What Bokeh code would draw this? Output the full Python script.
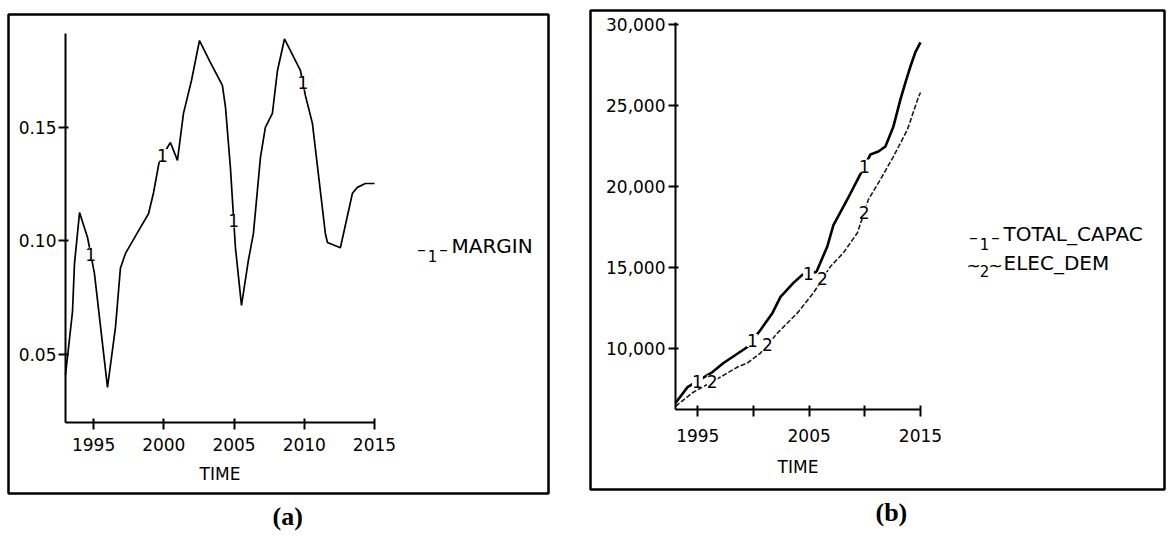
import numpy as np
from bokeh.plotting import figure
from bokeh.models import (FixedTicker, NumeralTickFormatter, Label, Range1d, Title)
from bokeh.layouts import row
from bokeh.embed import file_html
from bokeh.resources import INLINE

# ---------------- data: panel (a) ----------------
margin_years = [1993.0, 1993.5, 1993.64, 1994.0, 1994.57, 1995.06, 1995.99, 1996.56,
                1996.91, 1997.27, 1998.34, 1998.91, 1999.26, 1999.69, 2000.47, 2000.97,
                2001.40, 2001.97, 2002.54, 2003.32, 2004.17, 2004.39, 2004.74, 2005.10,
                2005.53, 2006.02, 2006.38, 2006.88, 2007.23, 2007.73, 2008.09, 2008.59,
                2009.73, 2010.08, 2010.58, 2011.50, 2011.65, 2012.57, 2013.43, 2013.78,
                2014.35, 2015.0]
margin = [0.041, 0.069, 0.090, 0.1125, 0.1015, 0.0857, 0.0355, 0.062,
          0.088, 0.0945, 0.106, 0.112, 0.121, 0.1355, 0.1434, 0.1355,
          0.1562, 0.1707, 0.1883, 0.1786, 0.1685, 0.159, 0.1324, 0.097,
          0.0716, 0.0914, 0.1033, 0.1368, 0.150, 0.1562, 0.175, 0.189,
          0.175, 0.1641, 0.1518, 0.1033, 0.0993, 0.097, 0.121, 0.1236,
          0.1253, 0.1253]
margin_marker_years = [1994.8, 1999.9, 2004.98, 2009.9]

# ---------------- data: panel (b) ----------------
capac_years = [1993.0, 1994.08, 1996.32, 1997.31, 1999.46, 2000.63, 2001.71, 2002.43,
               2003.59, 2004.40, 2005.66, 2006.64, 2007.18, 2008.44, 2009.6, 2010.5,
               2011.22, 2011.85, 2012.57, 2013.2, 2013.65, 2014.1, 2014.54, 2015.0]
total_capac = [6600, 7585, 8515, 9075, 10065, 11120, 12170, 13165,
               14030, 14530, 14710, 16300, 17600, 19200, 20750, 21960,
               22150, 22460, 23700, 25370, 26430, 27420, 28290, 28900]
dem_years = [1993.0, 1994.6, 1997.04, 1998.57, 1999.46, 2000.63, 2002.16, 2003.95,
             2005.39, 2006.9, 2008.08, 2009.34, 2010.32, 2011.4, 2012.57, 2013.83,
             2014.81, 2015.0]
elec_dem = [6400, 7270, 8205, 8825, 9075, 9690, 10930, 12170,
            13410, 15030, 15890, 17130, 19180, 20420, 21840, 23510,
            25500, 25800]
capac_marker_years = [1994.97, 1999.9, 2004.94, 2009.97]
dem_marker_years = [1996.3, 2001.26, 2006.2, 2009.95]

x_ticks = [1995, 2000, 2005, 2010, 2015]
a_y_ticks = [0.05, 0.10, 0.15]
b_y_ticks = [10000, 15000, 20000, 25000, 30000]

FONT = "DejaVu Sans"
FS = "17px"
LEG_FS = "20px"
DASH_FS = "17px"
SUB_FS = "15px"
BOTTOM = 45


class Panel:
    """page-pixel <-> data helper for one boxed panel (layout only)."""

    def __init__(self, box, x0px, x1px, y0px, y1px, xdat, ydat):
        self.box = box  # (left, top, right, bottom) page px of the frame box
        self.kx = (xdat[1] - xdat[0]) / (x1px - x0px)
        self.ky = (ydat[1] - ydat[0]) / (y0px - y1px)
        self.x0px, self.y0px, self.xd0, self.yd0 = x0px, y0px, xdat[0], ydat[0]

    def dx(self, px):
        return self.xd0 + (px - self.x0px) * self.kx

    def dy(self, py):
        return self.yd0 + (self.y0px - py) * self.ky

    def ranges(self):
        l, t, r, b = self.box
        return Range1d(self.dx(l), self.dx(r)), Range1d(self.dy(b), self.dy(t))


def make_fig(pan, margin):
    xr, yr = pan.ranges()
    l, t, r, b = pan.box
    p = figure(width=(r - l) + 4, height=(b - t) + 2 + BOTTOM, x_range=xr, y_range=yr,
               min_border_left=2, min_border_right=2, min_border_top=2,
               min_border_bottom=BOTTOM, output_backend="svg", toolbar_location=None,
               outline_line_color="black", outline_line_width=2.5,
               background_fill_color="white", border_fill_color="white",
               margin=margin)
    p.xgrid.visible = False
    p.ygrid.visible = False
    return p


def style_axes(p, x_loc, y_loc, xb, yb, x_standoff, xl_standoff, y_standoff):
    for ax in (p.xaxis, p.yaxis):
        ax.axis_line_width = 2
        ax.axis_line_color = "black"
        ax.major_tick_line_width = 2
        ax.major_tick_line_color = "black"
        ax.minor_tick_line_color = None
        ax.major_label_text_font = FONT
        ax.major_label_text_font_size = FS
        ax.major_label_text_color = "black"
        ax.axis_label_text_font = FONT
        ax.axis_label_text_font_size = FS
        ax.axis_label_text_font_style = "normal"
        ax.axis_label_text_color = "black"
    p.xaxis.fixed_location = x_loc
    p.yaxis.fixed_location = y_loc
    p.xaxis.bounds = xb
    p.yaxis.bounds = yb
    p.xaxis.major_tick_in = 4
    p.xaxis.major_tick_out = 7
    p.xaxis.major_label_standoff = x_standoff
    p.xaxis.axis_label_standoff = xl_standoff
    p.yaxis.major_tick_in = 3
    p.yaxis.major_tick_out = 7
    p.yaxis.major_label_standoff = y_standoff


def add_text(p, pan, px, py, txt, size, align="left"):
    p.add_layout(Label(x=pan.dx(px), y=pan.dy(py), text=txt, text_font=FONT,
                       text_font_size=size, text_align=align, text_baseline="middle",
                       text_color="black"))


def add_markers(p, xs, ys, txt):
    for xv, yv in zip(xs, ys):
        p.add_layout(Label(x=float(xv), y=float(yv), text=txt, text_font=FONT,
                           text_font_size=FS, text_align="center", text_baseline="middle",
                           text_color="black", background_fill_color="white"))


def add_caption(p, txt, offset):
    p.add_layout(Title(text=txt, align="left", offset=offset, standoff=13,
                       text_font="Liberation Serif", text_font_style="bold",
                       text_font_size="26px", text_color="black"), "below")


# ---------------- panel (a) ----------------
pan_a = Panel((8, 14, 548, 493), 65, 374, 422, 33, (1993, 2015), (0.020, 0.1914))
p1 = make_fig(pan_a, (12, 0, 0, 6))
p1.xaxis.ticker = FixedTicker(ticks=x_ticks)
p1.yaxis.ticker = FixedTicker(ticks=a_y_ticks)
p1.yaxis.formatter = NumeralTickFormatter(format="0.00")
p1.xaxis.axis_label = "TIME"
style_axes(p1, 0.020, 1993, (1993, 2015), (0.020, 0.1914), 8, 10, 2)

p1.line(margin_years, margin, line_color="black", line_width=1.7)
add_markers(p1, margin_marker_years,
            np.interp(margin_marker_years, margin_years, margin), "1")

add_text(p1, pan_a, 421, 248, "–", DASH_FS, "center")
add_text(p1, pan_a, 432, 255, "1", SUB_FS, "center")
add_text(p1, pan_a, 443, 248, "–", DASH_FS, "center")
add_text(p1, pan_a, 451, 245, "MARGIN", LEG_FS)
add_caption(p1, "(a)", 264)

# ---------------- panel (b) ----------------
pan_b = Panel((590, 10, 1164, 489), 675, 920, 409, 20, (1993, 2015), (6200, 30250))
p2 = make_fig(pan_b, (8, 0, 0, 38))
p2.xaxis.ticker = FixedTicker(ticks=x_ticks)
p2.xaxis.major_label_overrides = {2000: "", 2010: ""}
p2.yaxis.ticker = FixedTicker(ticks=b_y_ticks)
p2.yaxis.formatter = NumeralTickFormatter(format="0,0")
p2.xaxis.axis_label = "TIME"
style_axes(p2, 6200, 1993, (1993, 2015), (6200, 30100), 12, 12, 3)

p2.line(capac_years, total_capac, line_color="black", line_width=2.6)
p2.line(dem_years, elec_dem, line_color="#1a1a1a", line_width=1.6, line_dash="5 2")
add_markers(p2, capac_marker_years,
            np.interp(capac_marker_years, capac_years, total_capac), "1")
add_markers(p2, dem_marker_years,
            np.interp(dem_marker_years, dem_years, elec_dem), "2")

add_text(p2, pan_b, 973, 236, "–", DASH_FS, "center")
add_text(p2, pan_b, 984, 243, "1", SUB_FS, "center")
add_text(p2, pan_b, 995, 236, "–", DASH_FS, "center")
add_text(p2, pan_b, 1003, 233, "TOTAL_CAPAC", LEG_FS)
add_text(p2, pan_b, 973, 265, "~", DASH_FS, "center")
add_text(p2, pan_b, 984, 270, "2", SUB_FS, "center")
add_text(p2, pan_b, 995, 265, "~", DASH_FS, "center")
add_text(p2, pan_b, 1003, 262, "ELEC_DEM", LEG_FS)
add_caption(p2, "(b)", 285)

layout = row(p1, p2)

open("out.html", "w").write(file_html(layout, INLINE))
